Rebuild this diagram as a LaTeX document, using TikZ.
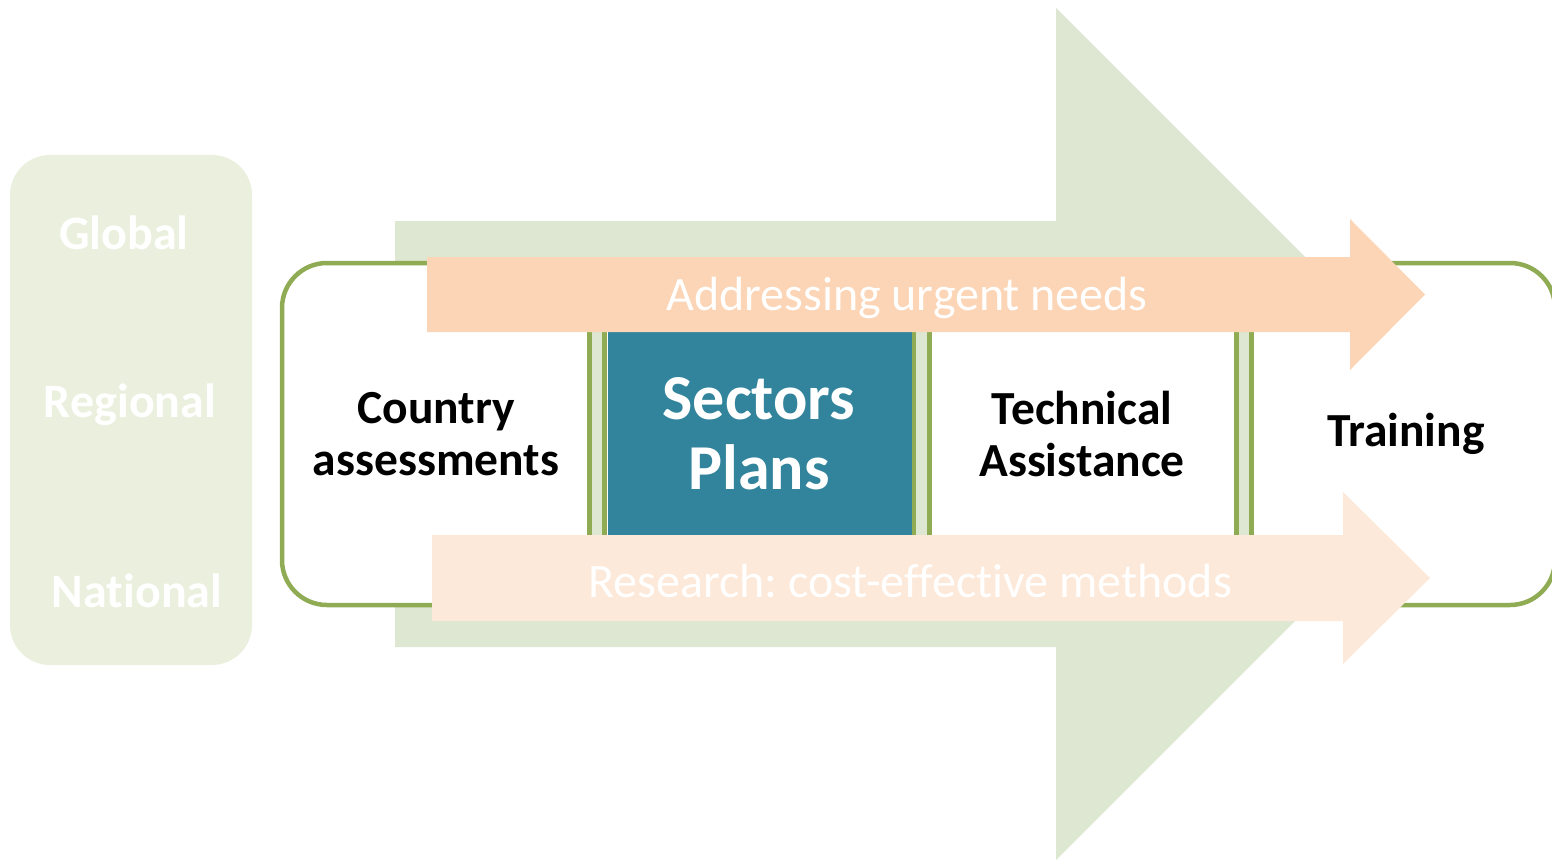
\documentclass[tikz,border=0pt]{standalone}
\usepackage{fontspec}
\setmainfont{Carlito}[Ligatures=NoCommon]
\frenchspacing
\definecolor{bigarrow}{RGB}{222,231,209}
\definecolor{panel}{RGB}{235,240,222}
\definecolor{gborder}{RGB}{143,172,84}
\definecolor{teal}{RGB}{49,132,155}
\definecolor{toparrow}{RGB}{251,213,181}
\definecolor{botarrow}{RGB}{253,233,217}
\tikzset{
  blacklbl/.style={font=\bfseries\fontsize{47.5}{52}\selectfont, text=black, align=center, inner sep=0pt},
  lvllbl/.style={font=\bfseries\fontsize{48}{52}\selectfont, text=white, inner sep=0pt},
  arrowlbl/.style={font=\fontsize{48}{52}\selectfont, text=white, inner sep=0pt},
  divider/.style={fill=bigarrow, draw=gborder, line width=5pt},
}
\begin{document}
\begin{tikzpicture}[x=1pt,y=-1pt]
\useasboundingbox (0,0) rectangle (1552,861);
% big background arrow
\fill[bigarrow] (395,221) -- (1056,221) -- (1056,8) -- (1482,434) -- (1056,860) -- (1056,647) -- (395,647) -- cycle;
% left level panel
\node[fill=panel, rounded corners=40pt, minimum width=242pt, minimum height=510pt, inner sep=0pt] (panel) at (131,410) {};
\node[lvllbl] (global) at (124,233) {Global};
\node[lvllbl] (regional) at (130,405) {Regional};
\node[lvllbl] (national) at (137,591) {National};
% main white box
\node[fill=white, draw=gborder, line width=4.5pt, rounded corners=45pt, minimum width=1273pt, minimum height=342pt, inner sep=0pt] (main) at (918.5,434) {};
% dividers
\path[divider] (589.5,263) rectangle (604.5,605);
\path[divider] (913.5,263) rectangle (929.5,605);
\path[divider] (1236.5,263) rectangle (1251.5,605);
% teal box
\node[fill=teal, minimum width=304pt, minimum height=272pt, inner sep=0pt] (sectors) at (759.5,434) {};
% top arrow
\fill[toparrow] (427,257) -- (1350,257) -- (1350,219) -- (1425,294.5) -- (1350,370) -- (1350,332) -- (427,332) -- cycle;
\node[arrowlbl] (urgent) at (907,298) {Addressing urgent needs};
% bottom arrow
\fill[botarrow] (432,535) -- (1343,535) -- (1343,492) -- (1430,578) -- (1343,664) -- (1343,621) -- (432,621) -- cycle;
\node[arrowlbl] (research) at (910,581) {Research: cost-effective methods};
% labels
\node[blacklbl] (country) at (436,434) {Country\\assessments};
\node[font=\bfseries\fontsize{64}{70}\selectfont, text=white, align=center, inner sep=0pt] (sectlbl) at (759,434) {Sectors\\Plans};
\node[blacklbl] (tech) at (1082,434) {Technical\\Assistance};
\node[blacklbl] (training) at (1406,434) {Training};
\end{tikzpicture}
\end{document}
